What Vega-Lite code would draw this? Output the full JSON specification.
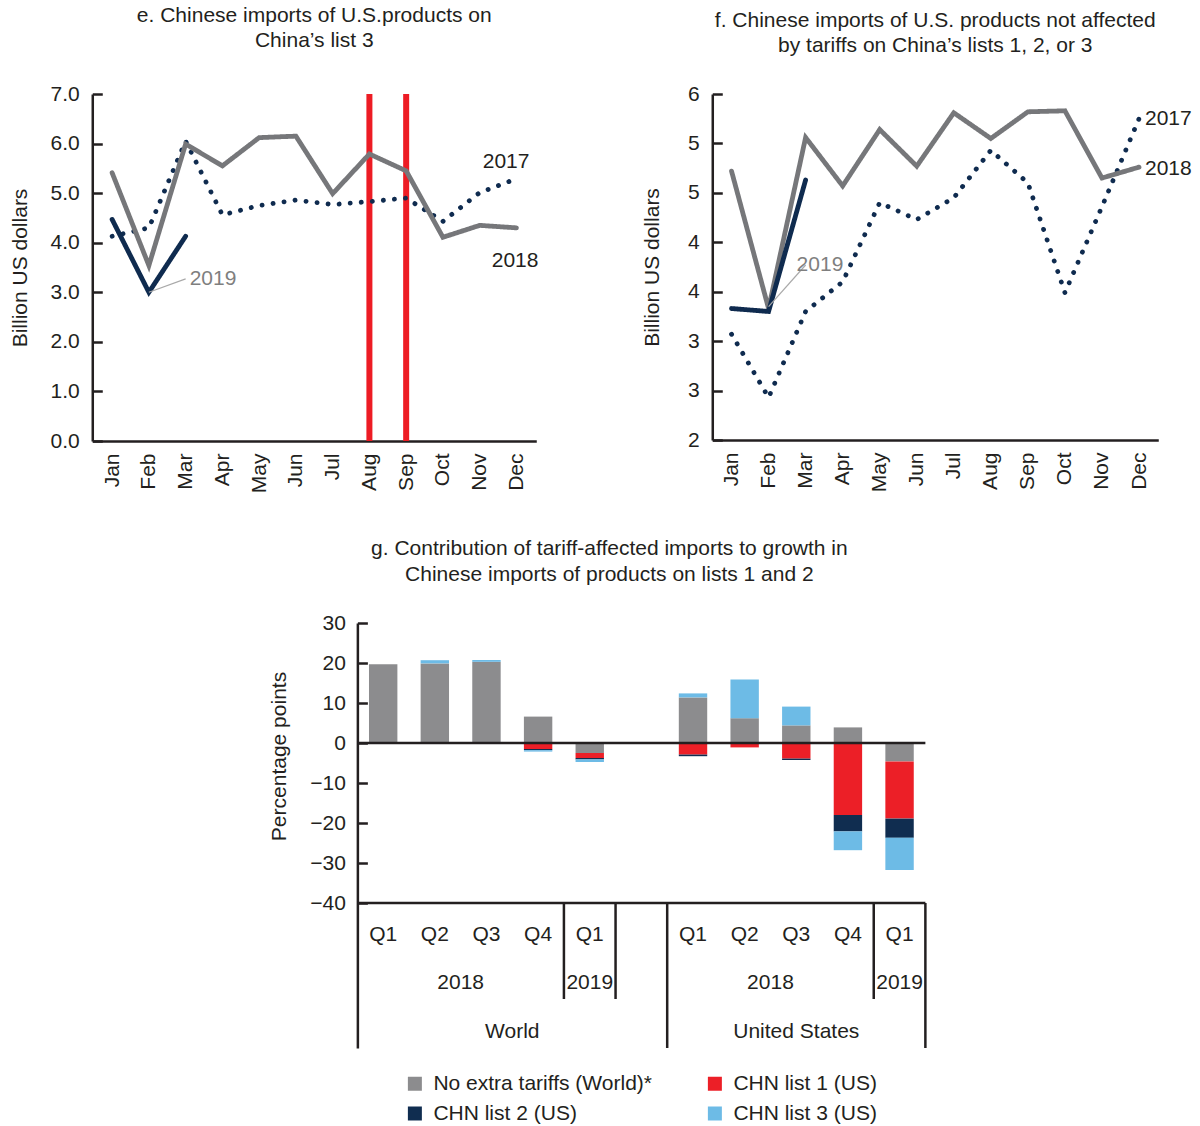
{
  "$schema": "https://vega.github.io/schema/vega-lite/v6.json",
  "background": "white",
  "padding": {"left": 9, "top": 5, "right": 0, "bottom": 0},
  "spacing": 45,
  "center": true,
  "resolve": {"scale": {"color": "independent", "strokeDash": "independent"}, "legend": {"color": "independent", "strokeDash": "independent"}},
  "config": {
    "font": "Liberation Sans",
    "view": {"stroke": null},
    "axis": {"labelFont": "Liberation Sans", "titleFont": "Liberation Sans", "labelFontSize": 21, "titleFontSize": 21, "titleFontWeight": "normal", "labelColor": "#231f20", "titleColor": "#231f20", "domainColor": "#231f20", "domainWidth": 2.5, "tickColor": "#231f20", "tickWidth": 2.5, "grid": false},
    "title": {"font": "Liberation Sans", "fontSize": 21, "fontWeight": "normal", "color": "#231f20", "anchor": "middle", "frame": "group"},
    "text": {"font": "Liberation Sans", "fontSize": 21, "color": "#231f20"},
    "legend": {"labelFont": "Liberation Sans"}
  },
  "datasets": {
    "e_tariffs": [{"month": "Aug", "event": "tariff"}, {"month": "Sep", "event": "tariff"}],
    "e_lines": [
      {"year": "2017", "month": "Jan", "value": 4.13}, {"year": "2017", "month": "Feb", "value": 4.30}, {"year": "2017", "month": "Mar", "value": 6.05}, {"year": "2017", "month": "Apr", "value": 4.56}, {"year": "2017", "month": "May", "value": 4.75}, {"year": "2017", "month": "Jun", "value": 4.86}, {"year": "2017", "month": "Jul", "value": 4.77}, {"year": "2017", "month": "Aug", "value": 4.83}, {"year": "2017", "month": "Sep", "value": 4.90}, {"year": "2017", "month": "Oct", "value": 4.43}, {"year": "2017", "month": "Nov", "value": 5.01}, {"year": "2017", "month": "Dec", "value": 5.29},
      {"year": "2018", "month": "Jan", "value": 5.41}, {"year": "2018", "month": "Feb", "value": 3.54}, {"year": "2018", "month": "Mar", "value": 5.99}, {"year": "2018", "month": "Apr", "value": 5.55}, {"year": "2018", "month": "May", "value": 6.12}, {"year": "2018", "month": "Jun", "value": 6.15}, {"year": "2018", "month": "Jul", "value": 4.99}, {"year": "2018", "month": "Aug", "value": 5.79}, {"year": "2018", "month": "Sep", "value": 5.45}, {"year": "2018", "month": "Oct", "value": 4.11}, {"year": "2018", "month": "Nov", "value": 4.35}, {"year": "2018", "month": "Dec", "value": 4.30},
      {"year": "2019", "month": "Jan", "value": 4.47}, {"year": "2019", "month": "Feb", "value": 3.00}, {"year": "2019", "month": "Mar", "value": 4.13}
    ],
    "e_notes": [
      {"label": "2017", "month": "Dec", "value": 5.62},
      {"label": "2018", "month": "Dec", "value": 3.63},
      {"label": "2019", "month": "Mar", "value": 3.27}
    ],
    "e_leader": [{"month": "Feb", "value": 3.0}, {"month": "Mar", "value": 3.27}],
    "f_lines": [
      {"year": "2017", "month": "Jan", "value": 3.57}, {"year": "2017", "month": "Feb", "value": 2.93}, {"year": "2017", "month": "Mar", "value": 3.80}, {"year": "2017", "month": "Apr", "value": 4.10}, {"year": "2017", "month": "May", "value": 4.90}, {"year": "2017", "month": "Jun", "value": 4.73}, {"year": "2017", "month": "Jul", "value": 4.95}, {"year": "2017", "month": "Aug", "value": 5.43}, {"year": "2017", "month": "Sep", "value": 5.10}, {"year": "2017", "month": "Oct", "value": 3.99}, {"year": "2017", "month": "Nov", "value": 4.86}, {"year": "2017", "month": "Dec", "value": 5.75},
      {"year": "2018", "month": "Jan", "value": 5.22}, {"year": "2018", "month": "Feb", "value": 3.83}, {"year": "2018", "month": "Mar", "value": 5.56}, {"year": "2018", "month": "Apr", "value": 5.07}, {"year": "2018", "month": "May", "value": 5.64}, {"year": "2018", "month": "Jun", "value": 5.27}, {"year": "2018", "month": "Jul", "value": 5.81}, {"year": "2018", "month": "Aug", "value": 5.55}, {"year": "2018", "month": "Sep", "value": 5.82}, {"year": "2018", "month": "Oct", "value": 5.83}, {"year": "2018", "month": "Nov", "value": 5.15}, {"year": "2018", "month": "Dec", "value": 5.26},
      {"year": "2019", "month": "Jan", "value": 3.83}, {"year": "2019", "month": "Feb", "value": 3.80}, {"year": "2019", "month": "Mar", "value": 5.13}
    ],
    "f_notes": [
      {"label": "2017", "month": "Dec", "value": 5.75},
      {"label": "2018", "month": "Dec", "value": 5.24},
      {"label": "2019", "month": "Mar", "value": 4.27}
    ],
    "f_leader": [{"month": "Feb", "value": 3.85}, {"month": "Mar", "value": 4.27}],
    "g_series": [
      {"series": "No extra tariffs (World)*", "rank": 1},
      {"series": "CHN list 1 (US)", "rank": 2},
      {"series": "CHN list 2 (US)", "rank": 3},
      {"series": "CHN list 3 (US)", "rank": 4}
    ],
    "g_bars": [
      {"slot": "World 2018Q1", "series": "No extra tariffs (World)*", "value": 19.7},
      {"slot": "World 2018Q2", "series": "No extra tariffs (World)*", "value": 19.9},
      {"slot": "World 2018Q2", "series": "CHN list 3 (US)", "value": 0.8},
      {"slot": "World 2018Q3", "series": "No extra tariffs (World)*", "value": 20.3},
      {"slot": "World 2018Q3", "series": "CHN list 3 (US)", "value": 0.45},
      {"slot": "World 2018Q4", "series": "No extra tariffs (World)*", "value": 6.6},
      {"slot": "World 2018Q4", "series": "CHN list 1 (US)", "value": -1.5},
      {"slot": "World 2018Q4", "series": "CHN list 2 (US)", "value": -0.3},
      {"slot": "World 2018Q4", "series": "CHN list 3 (US)", "value": -0.35},
      {"slot": "World 2019Q1", "series": "No extra tariffs (World)*", "value": -2.5},
      {"slot": "World 2019Q1", "series": "CHN list 1 (US)", "value": -1.25},
      {"slot": "World 2019Q1", "series": "CHN list 2 (US)", "value": -0.35},
      {"slot": "World 2019Q1", "series": "CHN list 3 (US)", "value": -0.65},
      {"slot": "US 2018Q1", "series": "No extra tariffs (World)*", "value": 11.4},
      {"slot": "US 2018Q1", "series": "CHN list 1 (US)", "value": -2.9},
      {"slot": "US 2018Q1", "series": "CHN list 2 (US)", "value": -0.4},
      {"slot": "US 2018Q1", "series": "CHN list 3 (US)", "value": 1.0},
      {"slot": "US 2018Q2", "series": "No extra tariffs (World)*", "value": 6.2},
      {"slot": "US 2018Q2", "series": "CHN list 1 (US)", "value": -1.1},
      {"slot": "US 2018Q2", "series": "CHN list 3 (US)", "value": 9.7},
      {"slot": "US 2018Q3", "series": "No extra tariffs (World)*", "value": 4.4},
      {"slot": "US 2018Q3", "series": "CHN list 1 (US)", "value": -3.9},
      {"slot": "US 2018Q3", "series": "CHN list 2 (US)", "value": -0.35},
      {"slot": "US 2018Q3", "series": "CHN list 3 (US)", "value": 4.7},
      {"slot": "US 2018Q4", "series": "No extra tariffs (World)*", "value": 3.9},
      {"slot": "US 2018Q4", "series": "CHN list 1 (US)", "value": -18.0},
      {"slot": "US 2018Q4", "series": "CHN list 2 (US)", "value": -4.1},
      {"slot": "US 2018Q4", "series": "CHN list 3 (US)", "value": -4.7},
      {"slot": "US 2019Q1", "series": "No extra tariffs (World)*", "value": -4.6},
      {"slot": "US 2019Q1", "series": "CHN list 1 (US)", "value": -14.3},
      {"slot": "US 2019Q1", "series": "CHN list 2 (US)", "value": -4.8},
      {"slot": "US 2019Q1", "series": "CHN list 3 (US)", "value": -8.05}
    ],
    "g_quarters": [
      {"slot": "World 2018Q1", "label": "Q1"}, {"slot": "World 2018Q2", "label": "Q2"}, {"slot": "World 2018Q3", "label": "Q3"}, {"slot": "World 2018Q4", "label": "Q4"}, {"slot": "World 2019Q1", "label": "Q1"},
      {"slot": "US 2018Q1", "label": "Q1"}, {"slot": "US 2018Q2", "label": "Q2"}, {"slot": "US 2018Q3", "label": "Q3"}, {"slot": "US 2018Q4", "label": "Q4"}, {"slot": "US 2019Q1", "label": "Q1"}
    ],
    "g_year_single": [{"slot": "World 2019Q1", "label": "2019"}, {"slot": "US 2019Q1", "label": "2019"}],
    "g_year_span": [{"slot": "World 2018Q3", "label": "2018"}, {"slot": "US 2018Q3", "label": "2018"}],
    "g_short_dividers": [{"slot": "World 2019Q1"}, {"slot": "gap"}, {"slot": "US 2019Q1"}]
  },
  "vconcat": [
    {
      "spacing": 102,
      "hconcat": [
        {
          "width": 444, "height": 347,
          "title": {"text": ["e. Chinese imports of U.S.products on", "China’s list 3"], "offset": 32, "lineHeight": 25},
          "layer": [
            {
              "data": {"name": "e_tariffs"},
              "mark": {"type": "rule", "color": "#ed1c24", "strokeWidth": 6},
              "encoding": {"x": {"field": "month", "type": "ordinal", "scale": {"type": "point", "padding": 0.54, "domain": ["Jan","Feb","Mar","Apr","May","Jun","Jul","Aug","Sep","Oct","Nov","Dec"]}, "axis": {"title": null, "labelAngle": -90, "ticks": false, "labelPadding": 12}}}
            },
            {
              "data": {"name": "e_lines"},
              "mark": {"type": "line", "strokeWidth": 4.8, "strokeCap": "round"},
              "encoding": {
                "x": {"field": "month", "type": "ordinal"},
                "y": {"field": "value", "type": "quantitative", "scale": {"domain": [0, 7], "nice": false}, "axis": {"title": "Billion US dollars", "values": [0,1,2,3,4,5,6,7], "format": ".1f", "tickSize": -10, "labelPadding": 23, "titlePadding": 20}},
                "color": {"field": "year", "type": "nominal", "scale": {"domain": ["2017","2018","2019"], "range": ["#0f2b4f", "#76777a", "#0f2b4f"]}, "legend": null},
                "strokeDash": {"field": "year", "type": "nominal", "scale": {"domain": ["2017","2018","2019"], "range": [[0.1, 11], [1, 0], [1, 0]]}, "legend": null}
              }
            },
            {
              "data": {"name": "e_leader"},
              "mark": {"type": "line", "color": "#a9a9a9", "strokeWidth": 1.2},
              "encoding": {"x": {"field": "month", "type": "ordinal"}, "y": {"field": "value", "type": "quantitative"}}
            },
            {
              "data": {"name": "e_notes"},
              "transform": [{"filter": "datum.label == '2017'"}],
              "mark": {"type": "text", "align": "right", "baseline": "middle", "dx": 13},
              "encoding": {"x": {"field": "month", "type": "ordinal"}, "y": {"field": "value", "type": "quantitative"}, "text": {"field": "label"}}
            },
            {
              "data": {"name": "e_notes"},
              "transform": [{"filter": "datum.label == '2018'"}],
              "mark": {"type": "text", "align": "right", "baseline": "middle", "dx": 22},
              "encoding": {"x": {"field": "month", "type": "ordinal"}, "y": {"field": "value", "type": "quantitative"}, "text": {"field": "label"}}
            },
            {
              "data": {"name": "e_notes"},
              "transform": [{"filter": "datum.label == '2019'"}],
              "mark": {"type": "text", "align": "left", "baseline": "middle", "dx": 4, "color": "#7f7f7f"},
              "encoding": {"x": {"field": "month", "type": "ordinal"}, "y": {"field": "value", "type": "quantitative"}, "text": {"field": "label"}}
            }
          ]
        },
        {
          "width": 446, "height": 346,
          "title": {"text": ["f. Chinese imports of U.S. products not affected", "by tariffs on China’s lists 1, 2, or 3"], "offset": 27, "lineHeight": 25},
          "layer": [
            {
              "data": {"name": "f_lines"},
              "mark": {"type": "line", "strokeWidth": 4.8, "strokeCap": "round"},
              "encoding": {
                "x": {"field": "month", "type": "ordinal", "scale": {"type": "point", "padding": 0.52, "domain": ["Jan","Feb","Mar","Apr","May","Jun","Jul","Aug","Sep","Oct","Nov","Dec"]}, "axis": {"title": null, "labelAngle": -90, "ticks": false, "labelPadding": 12}},
                "y": {"field": "value", "type": "quantitative", "scale": {"domain": [2.5, 6], "nice": false, "zero": false}, "axis": {"title": "Billion US dollars", "values": [2.5,3,3.5,4,4.5,5,5.5,6], "labelExpr": "floor(datum.value)", "tickSize": -10, "labelPadding": 23, "titlePadding": 25}},
                "color": {"field": "year", "type": "nominal", "scale": {"domain": ["2017","2018","2019"], "range": ["#0f2b4f", "#76777a", "#0f2b4f"]}, "legend": null},
                "strokeDash": {"field": "year", "type": "nominal", "scale": {"domain": ["2017","2018","2019"], "range": [[0.1, 11], [1, 0], [1, 0]]}, "legend": null}
              }
            },
            {
              "data": {"name": "f_leader"},
              "mark": {"type": "line", "color": "#a9a9a9", "strokeWidth": 1.2},
              "encoding": {"x": {"field": "month", "type": "ordinal"}, "y": {"field": "value", "type": "quantitative"}}
            },
            {
              "data": {"name": "f_notes"},
              "transform": [{"filter": "datum.label != '2019'"}],
              "mark": {"type": "text", "align": "left", "baseline": "middle", "dx": 6},
              "encoding": {"x": {"field": "month", "type": "ordinal"}, "y": {"field": "value", "type": "quantitative"}, "text": {"field": "label"}}
            },
            {
              "data": {"name": "f_notes"},
              "transform": [{"filter": "datum.label == '2019'"}],
              "mark": {"type": "text", "align": "left", "baseline": "middle", "dx": -9, "color": "#7f7f7f"},
              "encoding": {"x": {"field": "month", "type": "ordinal"}, "y": {"field": "value", "type": "quantitative"}, "text": {"field": "label"}}
            }
          ]
        }
      ]
    },
    {
      "width": 568, "height": 425,
      "title": {"text": ["g. Contribution of tariff-affected imports to growth in", "Chinese imports of products on lists 1 and 2"], "offset": 27, "lineHeight": 26, "dx": -32},
      "layer": [
        {
          "data": {"name": "g_bars"},
          "transform": [{"lookup": "series", "from": {"data": {"name": "g_series"}, "key": "series", "fields": ["rank"]}}],
          "mark": {"type": "bar", "width": {"band": 0.55}},
          "encoding": {
            "x": {"field": "slot", "type": "nominal", "scale": {"domain": ["World 2018Q1","World 2018Q2","World 2018Q3","World 2018Q4","World 2019Q1","gap","US 2018Q1","US 2018Q2","US 2018Q3","US 2018Q4","US 2019Q1"], "paddingInner": 0, "paddingOuter": 0}, "axis": null},
            "y": {"field": "value", "type": "quantitative", "scale": {"domain": [-76.25, 30], "nice": false, "zero": false}, "axis": {"title": "Percentage points", "values": [-40,-30,-20,-10,0,10,20,30], "tickSize": -10, "labelPadding": 22, "titlePadding": 20, "titleY": 133}},
            "order": {"field": "rank", "type": "quantitative"},
            "color": {"field": "series", "type": "nominal", "scale": {"domain": ["No extra tariffs (World)*", "CHN list 1 (US)", "CHN list 2 (US)", "CHN list 3 (US)"], "range": ["#8c8c8e", "#ec1f27", "#102d50", "#6dbbe6"]},
              "legend": {"title": null, "orient": "none", "legendX": 47, "legendY": 450, "direction": "horizontal", "columns": 2, "columnPadding": 52, "rowPadding": 8, "symbolType": "square", "symbolSize": 196, "symbolStrokeWidth": 0, "labelFontSize": 21, "labelLimit": 400, "labelColor": "#231f20", "labelOffset": 8}}
          }
        },
        {
          "data": {"values": [{"line": "zero"}]},
          "mark": {"type": "rule", "color": "#231f20", "strokeWidth": 2.5},
          "encoding": {"y": {"datum": 0}}
        },
        {
          "data": {"values": [{"line": "base"}]},
          "mark": {"type": "rule", "color": "#231f20", "strokeWidth": 2.5},
          "encoding": {"y": {"datum": -40}}
        },
        {
          "data": {"name": "g_short_dividers"},
          "mark": {"type": "rule", "color": "#231f20", "strokeWidth": 2.5},
          "encoding": {"x": {"field": "slot", "type": "nominal", "bandPosition": 0}, "y": {"datum": -40}, "y2": {"datum": -64}}
        },
        {
          "data": {"values": [{"slot": "US 2018Q1"}]},
          "mark": {"type": "rule", "color": "#231f20", "strokeWidth": 2.5},
          "encoding": {"x": {"field": "slot", "type": "nominal", "bandPosition": 0}, "y": {"datum": -40}, "y2": {"datum": -76.25}}
        },
        {
          "data": {"values": [{"slot": "US 2019Q1"}]},
          "mark": {"type": "rule", "color": "#231f20", "strokeWidth": 2.5},
          "encoding": {"x": {"field": "slot", "type": "nominal", "bandPosition": 1}, "y": {"datum": -40}, "y2": {"datum": -76.25}}
        },
        {
          "data": {"name": "g_quarters"},
          "mark": {"type": "text", "baseline": "middle"},
          "encoding": {"x": {"field": "slot", "type": "nominal", "bandPosition": 0.5}, "y": {"datum": -48}, "text": {"field": "label"}}
        },
        {
          "data": {"name": "g_year_single"},
          "mark": {"type": "text", "baseline": "middle"},
          "encoding": {"x": {"field": "slot", "type": "nominal", "bandPosition": 0.5}, "y": {"datum": -60}, "text": {"field": "label"}}
        },
        {
          "data": {"name": "g_year_span"},
          "mark": {"type": "text", "baseline": "middle"},
          "encoding": {"x": {"field": "slot", "type": "nominal", "bandPosition": 0}, "y": {"datum": -60}, "text": {"field": "label"}}
        },
        {
          "data": {"values": [{"slot": "World 2018Q4", "label": "World"}]},
          "mark": {"type": "text", "baseline": "middle"},
          "encoding": {"x": {"field": "slot", "type": "nominal", "bandPosition": 0}, "y": {"datum": -72.25}, "text": {"field": "label"}}
        },
        {
          "data": {"values": [{"slot": "US 2018Q3", "label": "United States"}]},
          "mark": {"type": "text", "baseline": "middle"},
          "encoding": {"x": {"field": "slot", "type": "nominal", "bandPosition": 0.5}, "y": {"datum": -72.25}, "text": {"field": "label"}}
        }
      ]
    }
  ]
}
